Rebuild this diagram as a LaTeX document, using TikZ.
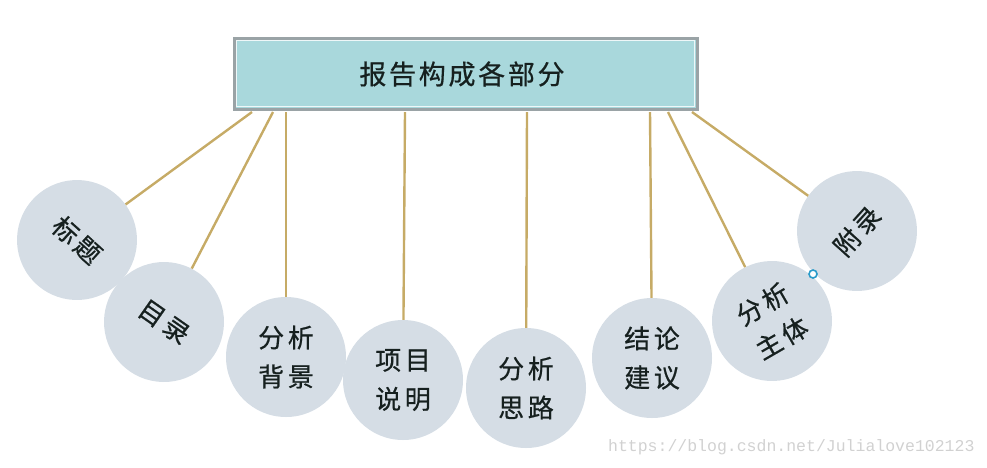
\documentclass[tikz,border=0pt]{standalone}
\usepackage{fontspec}
\newfontfamily\cjk[LetterSpace=14, FakeBold=0.6]{Noto Sans CJK SC}
\newfontfamily\cjktitle[LetterSpace=10, FakeBold=0.6]{Noto Sans CJK SC}
\newfontfamily\monofont{Liberation Mono}
\definecolor{boxfill}{HTML}{A9D8DC}
\definecolor{boxedge}{HTML}{9AA3A6}
\definecolor{discfill}{HTML}{D5DDE5}
\definecolor{linkcol}{HTML}{C6AB66}
\definecolor{inkcol}{HTML}{16201F}
\tikzset{
  disc/.style={circle, fill=discfill, minimum size=120pt, inner sep=0pt,
    font=\cjk\fontsize{26}{39}\selectfont, text=inkcol, align=center},
  link/.style={draw=linkcol, line width=2.4pt},
}
\begin{document}
\begin{tikzpicture}[x=1pt,y=-1pt]
\useasboundingbox (0,0) rectangle (987,467);
% title bar
\node[draw=boxedge, line width=3pt, fill=boxfill, minimum width=463pt, minimum height=71pt,
  inner sep=0pt] (top) at (465.5,73.5) {};
\draw[white!80!boxfill, line width=1.2pt] ([shift={(4,-4)}]top.south west) rectangle ([shift={(-4,4)}]top.north east);
\node[font=\cjktitle\fontsize{27}{30}\selectfont, text=inkcol] (title) at (462,74) {报告构成各部分};
% anchor points along the bottom edge of the bar
\coordinate (a1) at (252,112);
\coordinate (a2) at (273,112);
\coordinate (a3) at (286,112);
\coordinate (a4) at (405,112);
\coordinate (a5) at (527,112);
\coordinate (a6) at (650,112);
\coordinate (a7) at (668,112);
\coordinate (a8) at (692,112);
% discs with their labels
\node[disc, rotate=-42] (c1) at (77,240) {标题};
\node[disc, rotate=-35] (c2) at (164,322) {目录};
\node[disc] (c3) at (286,357) {分析\\背景};
\node[disc] (c4) at (403,380) {项目\\说明};
\node[disc] (c5) at (526,388) {分析\\思路};
\node[disc] (c6) at (652,358) {结论\\建议};
\node[disc, rotate=30] (c7) at (772,321) {分析\\主体};
\node[disc, rotate=48] (c8) at (857,231) {附录};
% connectors
\draw[link] (a1) -- (c1);
\draw[link] (a2) -- (c2);
\draw[link] (a3) -- (c3);
\draw[link] (a4) -- (c4);
\draw[link] (a5) -- (c5);
\draw[link] (a6) -- (c6);
\draw[link] (a7) -- (c7);
\draw[link] (a8) -- (c8);
% small handle between the last two discs
\node[circle, draw=cyan!60!teal, fill=white, line width=1.6pt, minimum size=8pt, inner sep=0pt] (h) at (813,274) {};
% footer text
\node[font=\monofont\fontsize{16.5}{18}\selectfont, text=black!18, anchor=east] (wm) at (978,447) {https://blog.csdn.net/Julialove102123};
\end{tikzpicture}
\end{document}
